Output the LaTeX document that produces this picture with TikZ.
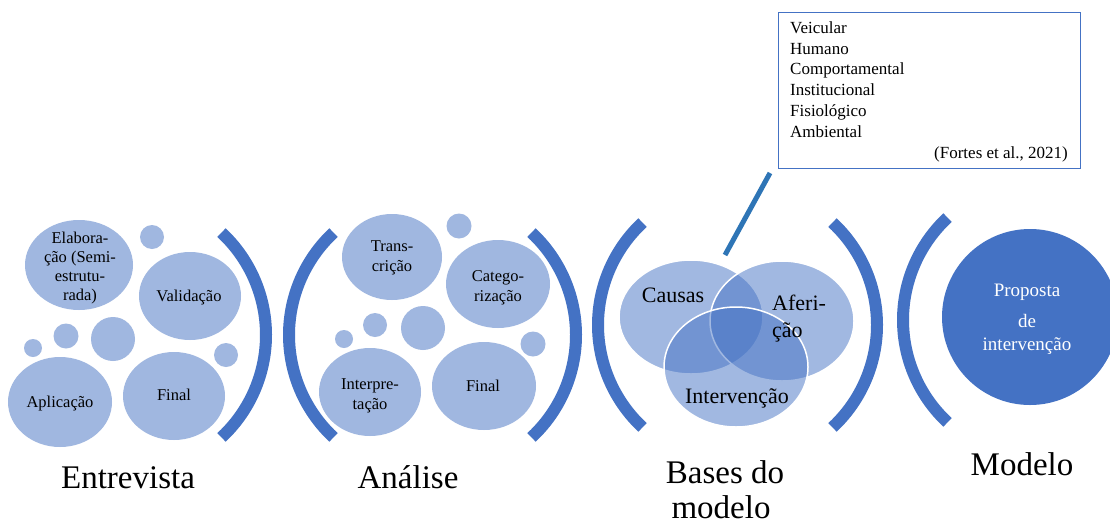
\documentclass[tikz,border=0pt]{standalone}
\usepackage{fontspec}
\setmainfont{Liberation Serif}
\definecolor{bub}{HTML}{A0B7E0}
\definecolor{acc}{HTML}{4472C4}
\definecolor{lineblue}{HTML}{2E75B6}
\tikzset{
  brk/.style={draw=acc, line width=12pt},
  bubble/.style={fill=bub},
  venn/.style={fill=acc, fill opacity=0.5, draw=white, line width=1.5pt},
  lbl/.style={font=\fontsize{16.5}{19.5}\selectfont, inner sep=0pt, anchor=base},
  vlbl/.style={font=\fontsize{22}{26}\selectfont, inner sep=0pt, anchor=base},
  mlbl/.style={font=\fontsize{19}{22}\selectfont, inner sep=0pt, anchor=base, text=white},
  big/.style={font=\fontsize{33}{36}\selectfont, inner sep=0pt, anchor=base},
  box/.style={font=\fontsize{17}{20}\selectfont, inner sep=0pt, anchor=base west}
}
\begin{document}
\begin{tikzpicture}[x=1pt,y=-1pt]
\useasboundingbox (0,0) rectangle (1110,525);
\clip (0,0) rectangle (1110,525);
\fill[white] (0,0) rectangle (1110,525);

% ---------- Entrevista ----------
\fill[bubble] (79,265) ellipse[x radius=54,y radius=45];
\fill[bubble] (152,237) circle[radius=12];
\fill[bubble] (190,296) ellipse[x radius=51,y radius=44];
\fill[bubble] (33,348) circle[radius=9];
\fill[bubble] (66,336) circle[radius=12.5];
\fill[bubble] (113,339) circle[radius=22];
\fill[bubble] (226,355) circle[radius=12];
\fill[bubble] (60,402) ellipse[x radius=52,y radius=45];
\fill[bubble] (174,396) ellipse[x radius=51,y radius=44];
\node[lbl] (e1a) at (80,243.3) {Elabora-};
\node[lbl] (e1b) at (80,262.7) {ção (Semi-};
\node[lbl] (e1c) at (80,281.7) {estrutu-};
\node[lbl] (e1d) at (80,300.5) {rada)};
\node[lbl] (e2) at (189,301) {Validação};
\node[lbl] (e3) at (60,407.3) {Aplicação};
\node[lbl] (e4) at (174,400.7) {Final};
\draw[brk] ([shift={(-47:140)}]126,335) arc[start angle=-47,end angle=47,radius=140];

% ---------- Analise ----------
\draw[brk] ([shift={(133:140)}]429,335) arc[start angle=133,end angle=227,radius=140];
\fill[bubble] (392,257) ellipse[x radius=50,y radius=43];
\fill[bubble] (459,226) circle[radius=12.5];
\fill[bubble] (498,284) ellipse[x radius=52,y radius=44];
\fill[bubble] (344,339) circle[radius=9];
\fill[bubble] (375,325) circle[radius=12];
\fill[bubble] (423,328) circle[radius=22];
\fill[bubble] (533,344) circle[radius=12.5];
\fill[bubble] (370,392) ellipse[x radius=51,y radius=44];
\fill[bubble] (484,386) ellipse[x radius=52,y radius=44];
\node[lbl] (a1a) at (392,251.7) {Trans-};
\node[lbl] (a1b) at (392,271.7) {crição};
\node[lbl] (a2a) at (498,281.7) {Catego-};
\node[lbl] (a2b) at (498,301.7) {rização};
\node[lbl] (a3a) at (370,389.3) {Interpre-};
\node[lbl] (a3b) at (370,409.3) {tação};
\node[lbl] (a4) at (483,391.7) {Final};
\draw[brk] ([shift={(-47:140)}]436,335) arc[start angle=-47,end angle=47,radius=140];

% ---------- Bases do modelo ----------
\draw[brk] ([shift={(133:140)}]738,325) arc[start angle=133,end angle=227,radius=140];
\draw[venn] (691,317) ellipse[x radius=72,y radius=57];
\draw[venn] (782,321) ellipse[x radius=72,y radius=60];
\draw[venn] (736,367) ellipse[x radius=72,y radius=60];
\node[vlbl] (v1) at (673,302.7) {Causas};
\node[vlbl, anchor=base west] (v2a) at (772,310) {Aferi-};
\node[vlbl, anchor=base west] (v2b) at (772,337) {ção};
\node[vlbl] (v3) at (737,403) {Intervenção};
\draw[brk] ([shift={(-47:140)}]737,325) arc[start angle=-47,end angle=47,radius=140];

% ---------- callout ----------
\node[draw=acc, line width=1.2pt, fill=white, minimum width=302pt, minimum height=156pt, anchor=north west, inner sep=0pt] (cbox) at (778,12) {};
\node[box] (c1) at (790,33) {Veicular};
\node[box] (c2) at (790,54) {Humano};
\node[box] (c3) at (790,74.8) {Comportamental};
\node[box] (c4) at (790,95.5) {Institucional};
\node[box] (c5) at (790,116.3) {Fisiológico};
\node[box] (c6) at (790,137) {Ambiental};
\node[box, anchor=base east] (c7) at (1068,158) {(Fortes et al., 2021)};
\coordinate (ctop) at (770,173);
\coordinate (cbot) at (725,255);
\draw[draw=lineblue, line width=5pt] (ctop) -- (cbot);

% ---------- Modelo ----------
\draw[brk] ([shift={(133:140)}]1043,320) arc[start angle=133,end angle=227,radius=140];
\fill[acc] (1030,317) circle[radius=88];
\node[mlbl] (m1) at (1027,296.7) {Proposta};
\node[mlbl] (m2) at (1027,327.3) {de};
\node[mlbl] (m3) at (1027,350) {intervenção};

% ---------- titles ----------
\node[big] (t1) at (128,488) {Entrevista};
\node[big] (t2) at (408,488) {Análise};
\node[big] (t3a) at (725,483) {Bases do};
\node[big] (t3b) at (721,518.5) {modelo};
\node[big] (t4) at (1022,475) {Modelo};
\end{tikzpicture}
\end{document}
